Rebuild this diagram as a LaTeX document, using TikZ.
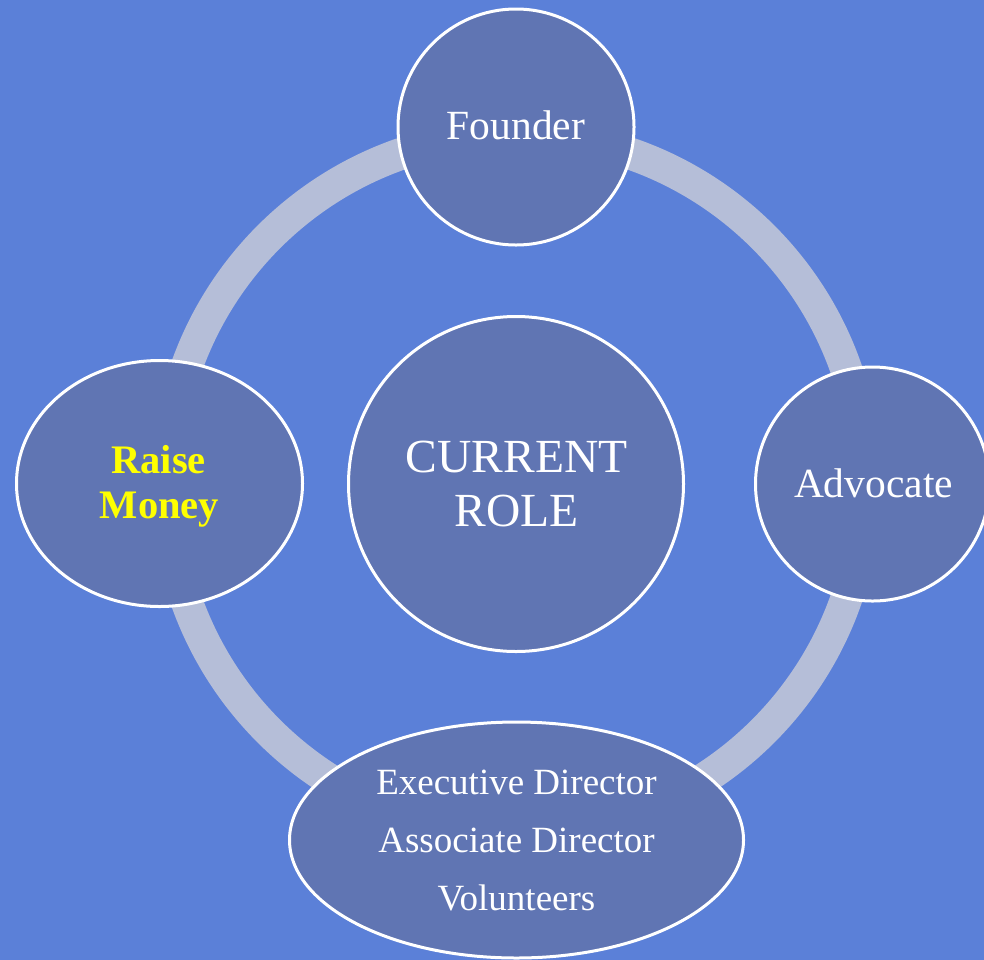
\documentclass[tikz,border=0pt]{standalone}
\usepackage{fontspec}
\setmainfont{Liberation Serif}
\usetikzlibrary{shapes.geometric}
\definecolor{bgmain}{HTML}{5B80D8}
\definecolor{bgdark}{HTML}{4F70CA}
\definecolor{nodefill}{HTML}{6075B3}
\definecolor{ringcol}{HTML}{B5BED8}
\definecolor{yell}{HTML}{FFFF00}
\pgfdeclareradialshading{bgshade}{\pgfpoint{0bp}{0bp}}{color(0bp)=(bgmain); color(48bp)=(bgmain); color(71bp)=(bgdark)}
\begin{document}
\begin{tikzpicture}[x=1pt,y=-1pt,
  role/.style={draw=white, line width=3pt, fill=nodefill, inner sep=0pt},
  roundrole/.style={role, circle},
  ovalrole/.style={role, ellipse},
  txt/.style={text=white, anchor=base, inner sep=0pt},
  smalltxt/.style={txt, font=\fontsize{41.5}{48}\selectfont},
  bigtxt/.style={txt, font=\fontsize{47.5}{54}\selectfont},
  listtxt/.style={txt, font=\fontsize{37}{42}\selectfont},
  moneytxt/.style={txt, text=yell, font=\bfseries\fontsize{40.5}{45}\selectfont},
]
\shade[shading=bgshade] (0,0) rectangle (984,959);
\useasboundingbox (0,0) rectangle (984,959);
\coordinate (c) at (516,484);
\draw[ringcol, line width=32pt] (c) circle (349.5);
\node[roundrole, minimum size=236pt] (founder) at (516,127) {};
\node[roundrole, minimum size=335pt] (current) at (516,484) {};
\node[roundrole, minimum size=234pt] (advocate) at (872.5,484) {};
\node[ovalrole, minimum width=286pt, minimum height=246pt] (raise) at (159.5,483.5) {};
\node[ovalrole, minimum width=454pt, minimum height=236pt] (staff) at (516.5,840) {};
\node[smalltxt] (tfounder) at (516,139) {Founder};
\node[smalltxt] (tadvocate) at (873.5,497) {Advocate};
\node[bigtxt] (tcurrent) at (516.5,472) {CURRENT};
\node[bigtxt] (trole) at (516.5,526) {ROLE};
\node[moneytxt] (traise) at (158.5,473) {Raise};
\node[moneytxt] (tmoney) at (159.5,518) {Money};
\node[listtxt] (texec) at (516.5,794) {Executive Director};
\node[listtxt] (tassoc) at (516.5,852) {Associate Director};
\node[listtxt] (tvol) at (516.5,910) {Volunteers};
\end{tikzpicture}
\end{document}
